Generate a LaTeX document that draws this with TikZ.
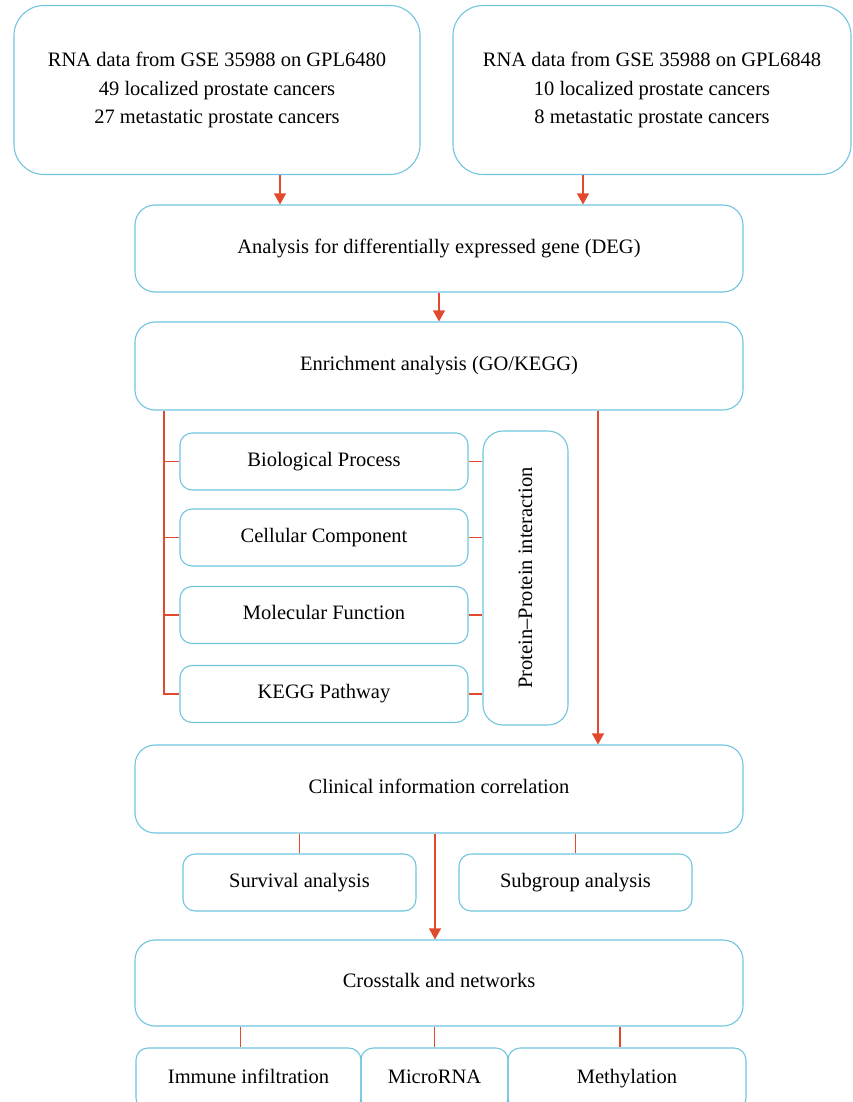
\documentclass[tikz,border=0pt]{standalone}
\usepackage{fontspec}
\setmainfont{Liberation Serif}
\usetikzlibrary{arrows.meta}
\definecolor{boxblue}{RGB}{112,196,222}
\definecolor{linkred}{RGB}{226,74,46}
\tikzset{
  plain/.style = {align=center, font=\fontsize{20.5}{28.5}\selectfont},
  box/.style = {plain, draw=boxblue, line width=1.1pt},
  bigbox/.style = {box, rounded corners=30pt},
  midbox/.style = {box, rounded corners=20pt, minimum width=608pt, text height=2.3ex, text depth=0.3ex},
  subbox/.style = {box, rounded corners=12pt, text height=2.3ex, text depth=0.3ex},
  flow/.style = {draw=linkred, line width=1.2pt, -{Triangle[length=11pt,width=12pt]}},
  link/.style = {draw=linkred, line width=1.2pt}
}

\begin{document}
\begin{tikzpicture}[x=1pt, y=-1pt]
\useasboundingbox (0,0) rectangle (852,1102);
\clip (0,0) rectangle (852,1102);
\node[bigbox, minimum width=406pt, minimum height=169pt](gpla) at (217,90){RNA data from GSE 35988 on GPL6480\\49 localized prostate cancers\\27 metastatic prostate cancers};
\node[bigbox, minimum width=398pt, minimum height=169pt](gplb) at (652,90){RNA data from GSE 35988 on GPL6848\\10 localized prostate cancers\\8 metastatic prostate cancers};
\node[midbox, minimum height=87pt](deg) at (439,248.5){Analysis for differentially expressed gene (DEG)};
\node[midbox, minimum height=88pt](enrich) at (439,366){Enrichment analysis (GO/KEGG)};
\node[subbox, minimum width=288pt, minimum height=57pt](bp) at (324,461.5){Biological Process};
\node[subbox, minimum width=288pt, minimum height=57pt](cc) at (324,537.5){Cellular Component};
\node[subbox, minimum width=288pt, minimum height=57pt](mf) at (324,615){Molecular Function};
\node[subbox, minimum width=288pt, minimum height=57pt](kegg) at (324,694){KEGG Pathway};
\node[subbox, rounded corners=20pt, minimum width=85pt, minimum height=294pt](ppi) at (525.5,578){};
\node[plain, rotate=90](ppitext) at (ppi.center){Protein--Protein interaction};
\node[midbox, minimum height=88pt](clin) at (439,789){Clinical information correlation};
\node[subbox, minimum width=233pt, minimum height=57pt](surv) at (299.5,882.5){Survival analysis};
\node[subbox, minimum width=233pt, minimum height=57pt](subg) at (575.5,882.5){Subgroup analysis};
\node[midbox, minimum height=86pt](cross) at (439,983){Crosstalk and networks};
\node[subbox, minimum width=225pt, minimum height=62pt](immune) at (248.5,1079){Immune infiltration};
\node[subbox, minimum width=147pt, minimum height=62pt](micro) at (434.5,1079){MicroRNA};
\node[subbox, minimum width=238pt, minimum height=62pt](methyl) at (627,1079){Methylation};

\coordinate (ta) at ([xshift=63pt]gpla.south);
\coordinate (tb) at ([xshift=-69pt]gplb.south);
\coordinate (bus) at ([xshift=-275pt]enrich.south);
\coordinate (tc) at ([xshift=159pt]enrich.south);
\draw[flow] (ta) -- (ta |- deg.north);
\draw[flow] (tb) -- (tb |- deg.north);
\draw[flow] (deg.south) -- (enrich.north);
\draw[link] (bus) |- (kegg.west);
\foreach \n in {bp, cc, mf}
  \draw[link] (bus |- \n.west) -- (\n.west);
\foreach \n in {bp, cc, mf, kegg}
  \draw[link] (\n.east) -- (\n.east -| ppi.west);
\draw[flow] (tc) -- (tc |- clin.north);
\draw[link] (surv.north |- clin.south) -- (surv.north);
\draw[link] (subg.north |- clin.south) -- (subg.north);
\draw[flow] ([xshift=-4pt]clin.south) -- ([xshift=-4pt]cross.north);
\draw[link] ([xshift=-8pt]immune.north |- cross.south) -- ([xshift=-8pt]immune.north);
\draw[link] (micro.north |- cross.south) -- (micro.north);
\draw[link] ([xshift=-7pt]methyl.north |- cross.south) -- ([xshift=-7pt]methyl.north);
\end{tikzpicture}
\end{document}
